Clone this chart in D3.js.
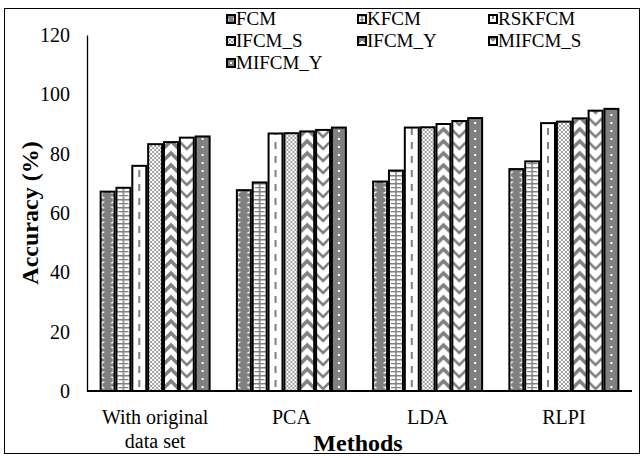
<!DOCTYPE html>
<html>
<head>
<meta charset="utf-8">
<script src="https://cdn.jsdelivr.net/npm/d3@7"></script>
<style>
  body { margin: 0; background: #fff; }
  text { font-family: "Liberation Serif", "Times New Roman", serif; fill: #000; }
</style>
</head>
<body>
<div id="chart"></div>
<script>
// data
var categories = ["With original|data set", "PCA", "LDA", "RLPI"];
var series = ["FCM", "KFCM", "RSKFCM", "IFCM_S", "IFCM_Y", "MIFCM_S", "MIFCM_Y"];
var FCM     = [67.2, 67.7, 70.6, 74.8];
var KFCM    = [68.5, 70.3, 74.3, 77.4];
var RSKFCM  = [75.9, 86.8, 88.8, 90.3];
var IFCM_S  = [83.2, 86.9, 88.9, 90.8];
var IFCM_Y  = [83.9, 87.5, 90.0, 91.9];
var MIFCM_S = [85.4, 88.0, 91.0, 94.5];
var MIFCM_Y = [85.8, 88.8, 92.0, 95.1];
var yTicks = [0, 20, 40, 60, 80, 100, 120];

var values = [FCM, KFCM, RSKFCM, IFCM_S, IFCM_Y, MIFCM_S, MIFCM_Y];

var width = 644, height = 457;
var grey = "#808080";

var svg = d3.select("#chart").append("svg").attr("width", width).attr("height", height);
var defs = svg.append("defs");

// chart frame
svg.append("rect").attr("x", 4.5).attr("y", 8.5).attr("width", 635).attr("height", 445)
    .attr("fill", "none").attr("stroke", "#000").attr("stroke-width", 1);

var y = d3.scaleLinear().domain([0, 120]).range([391, 35]);
var x0 = d3.scaleBand().domain(categories).range([87, 632]).paddingInner(0.2).paddingOuter(0.1);
var x1 = d3.scaleBand().domain(series).range([0, x0.bandwidth()]).paddingInner(0.12);

// one pattern per bar so the tile lines up with the bar edge
function makePattern(id, s, px, py, w) {
    var p, t;
    if (s == 0) { // grey with white scallops
        p = defs.append("pattern").attr("id", id).attr("patternUnits", "userSpaceOnUse")
            .attr("x", px).attr("y", py).attr("width", w).attr("height", 10);
        p.append("rect").attr("width", w).attr("height", 10).attr("fill", grey);
        p.append("path").attr("d", "M" + (w * 0.25) + ",1 a3,3 0 1,0 0,6")
            .attr("fill", "none").attr("stroke", "#fff").attr("stroke-width", 1.6);
        p.append("path").attr("d", "M" + (w * 0.75) + ",6 a3,3 0 1,1 0,6")
            .attr("fill", "none").attr("stroke", "#fff").attr("stroke-width", 1.6);
        p.append("path").attr("d", "M" + (w * 0.75) + ",-4 a3,3 0 1,1 0,6")
            .attr("fill", "none").attr("stroke", "#fff").attr("stroke-width", 1.6);
    } else if (s == 1) { // brick
        p = defs.append("pattern").attr("id", id).attr("patternUnits", "userSpaceOnUse")
            .attr("x", px).attr("y", py).attr("width", w).attr("height", 8);
        p.append("rect").attr("width", w).attr("height", 8).attr("fill", "#fff");
        p.append("rect").attr("x", 0).attr("y", 0).attr("width", w).attr("height", 1.5).attr("fill", grey);
        p.append("rect").attr("x", w / 2 - 0.75).attr("y", 0).attr("width", 1.5).attr("height", 8).attr("fill", grey);
        p.append("rect").attr("x", 2).attr("y", 4).attr("width", w - 4).attr("height", 1.2).attr("fill", grey);
    } else if (s == 2) { // dashed centre line
        p = defs.append("pattern").attr("id", id).attr("patternUnits", "userSpaceOnUse")
            .attr("x", px).attr("y", py).attr("width", w).attr("height", 14);
        p.append("rect").attr("width", w).attr("height", 14).attr("fill", "#fff");
        p.append("rect").attr("x", w / 2 - 1).attr("y", 3).attr("width", 2).attr("height", 7).attr("fill", grey);
    } else if (s == 3) { // fine checker
        p = defs.append("pattern").attr("id", id).attr("patternUnits", "userSpaceOnUse")
            .attr("x", px).attr("y", py).attr("width", 4).attr("height", 4);
        p.append("rect").attr("width", 4).attr("height", 4).attr("fill", "#fff");
        p.append("rect").attr("width", 2).attr("height", 2).attr("fill", "#a0a0a0");
        p.append("rect").attr("x", 2).attr("y", 2).attr("width", 2).attr("height", 2).attr("fill", "#a0a0a0");
    } else if (s == 4 || s == 5) { // chevrons
        var h = 12;
        p = defs.append("pattern").attr("id", id).attr("patternUnits", "userSpaceOnUse")
            .attr("x", px).attr("y", py).attr("width", w).attr("height", h);
        p.append("rect").attr("width", w).attr("height", h).attr("fill", "#fff");
        var d = s == 4
            ? "M0," + (h * 0.75) + " L" + (w / 2) + "," + (h * 0.75 - w / 2) + " L" + w + "," + (h * 0.75)
            : "M0," + (h * 0.25) + " L" + (w / 2) + "," + (h * 0.25 + w / 2) + " L" + w + "," + (h * 0.25);
        p.append("path").attr("d", d).attr("fill", "none").attr("stroke", grey)
            .attr("stroke-width", s == 4 ? 3.5 : 2.5);
        var d2 = s == 4
            ? "M0," + (h * 0.75 - h) + " L" + (w / 2) + "," + (h * 0.75 - w / 2 - h) + " L" + w + "," + (h * 0.75 - h)
            : "M0," + (h * 0.25 - h) + " L" + (w / 2) + "," + (h * 0.25 + w / 2 - h) + " L" + w + "," + (h * 0.25 - h);
        p.append("path").attr("d", d2).attr("fill", "none").attr("stroke", grey)
            .attr("stroke-width", s == 4 ? 3.5 : 2.5);
        var d3p = s == 4
            ? "M0," + (h * 0.75 + h) + " L" + (w / 2) + "," + (h * 0.75 - w / 2 + h) + " L" + w + "," + (h * 0.75 + h)
            : "M0," + (h * 0.25 + h) + " L" + (w / 2) + "," + (h * 0.25 + w / 2 + h) + " L" + w + "," + (h * 0.25 + h);
        p.append("path").attr("d", d3p).attr("fill", "none").attr("stroke", grey)
            .attr("stroke-width", s == 4 ? 3.5 : 2.5);
    } else { // grey with white dots
        p = defs.append("pattern").attr("id", id).attr("patternUnits", "userSpaceOnUse")
            .attr("x", px).attr("y", py).attr("width", w).attr("height", 8);
        p.append("rect").attr("width", w).attr("height", 8).attr("fill", grey);
        p.append("rect").attr("x", w / 2 - 1).attr("y", 3).attr("width", 2).attr("height", 2).attr("fill", "#fff");
    }
    return "url(#" + id + ")";
}

// bars
var bars = [];
categories.forEach(function (c, ci) {
    series.forEach(function (s, si) {
        bars.push({ cat: c, ci: ci, s: s, si: si, v: values[si][ci] });
    });
});

svg.append("g").selectAll("rect").data(bars).enter().append("rect")
    .attr("x", function (d) { return x0(d.cat) + x1(d.s); })
    .attr("y", function (d) { return y(d.v); })
    .attr("width", x1.bandwidth())
    .attr("height", function (d) { return y(0) - y(d.v); })
    .attr("fill", function (d) {
        return makePattern("p" + d.si + "_" + d.ci, d.si, x0(d.cat) + x1(d.s), y(0), x1.bandwidth());
    })
    .attr("stroke", "#000").attr("stroke-width", 2);

// axes
var yAxis = svg.append("g").attr("transform", "translate(87,0)")
    .call(d3.axisLeft(y).tickValues(yTicks).tickSize(0).tickPadding(17));
yAxis.select(".domain").attr("stroke", "#000").attr("stroke-width", 1.3);
yAxis.selectAll("text").style("font-size", "20px");

svg.append("line").attr("x1", 87).attr("x2", 632).attr("y1", y(0)).attr("y2", y(0))
    .attr("stroke", "#000").attr("stroke-width", 2);

// category labels
var catG = svg.append("g");
categories.forEach(function (c) {
    var lines = c.split("|");
    var t = catG.append("text").attr("text-anchor", "middle").style("font-size", "20px")
        .attr("x", x0(c) + x0.bandwidth() / 2).attr("y", 424);
    lines.forEach(function (l, i) {
        t.append("tspan").attr("x", x0(c) + x0.bandwidth() / 2).attr("dy", i == 0 ? 0 : 24).text(l);
    });
});

// axis titles
svg.append("text").attr("x", 358).attr("y", 451).attr("text-anchor", "middle")
    .style("font-size", "24px").style("font-weight", "bold").text("Methods");
svg.append("text").attr("transform", "translate(38,213) rotate(-90)").attr("text-anchor", "middle")
    .style("font-size", "24px").style("font-weight", "bold").text("Accuracy (%)");

// legend
var legend = svg.append("g");
series.forEach(function (s, i) {
    var col = i % 3, row = Math.floor(i / 3);
    var lx = 227 + col * 131, ly = 19 + row * 22;
    legend.append("rect").attr("x", lx).attr("y", ly - 4).attr("width", 8).attr("height", 8)
        .attr("fill", makePattern("lg" + i, i, lx, ly + 4, 8))
        .attr("stroke", "#000").attr("stroke-width", 2);
    legend.append("text").attr("x", lx + 9).attr("y", ly + 6).style("font-size", "19px").text(s);
});
</script>
</body>
</html>
